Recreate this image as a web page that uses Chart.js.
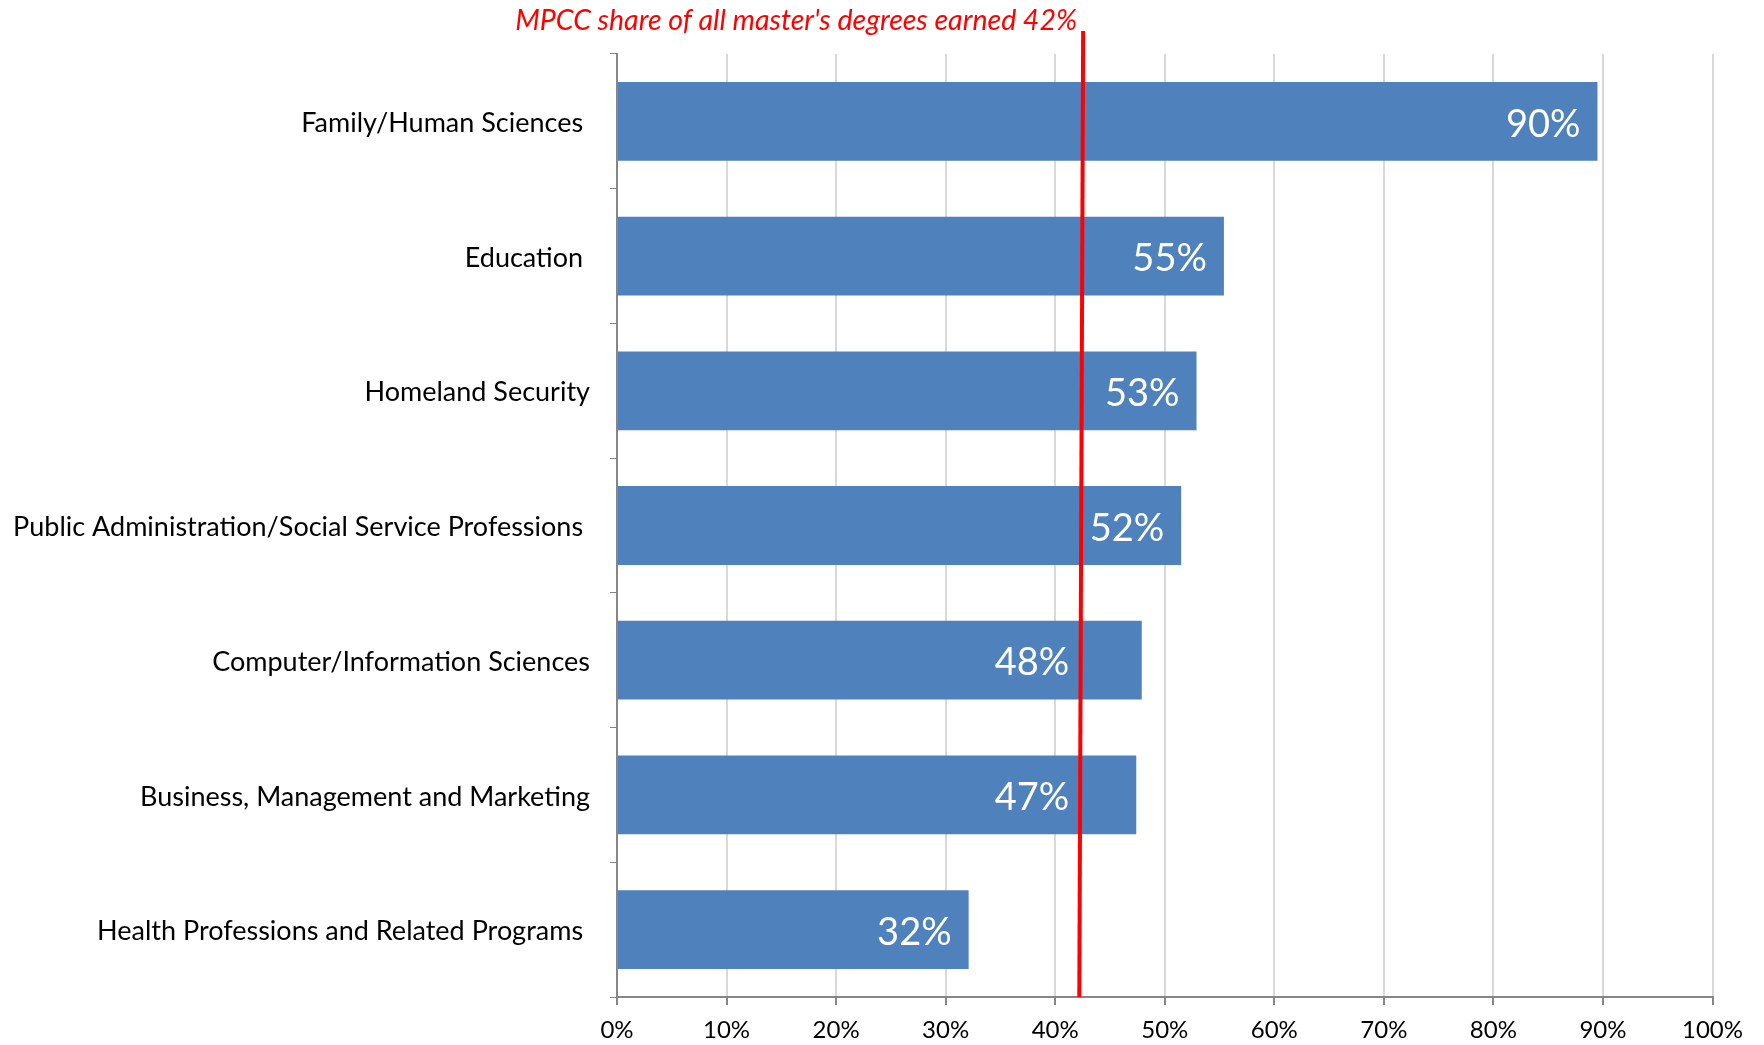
<!DOCTYPE html>
<html>
<head>
<meta charset="utf-8">
<script src="https://cdn.jsdelivr.net/npm/chart.js@4/dist/chart.umd.min.js"></script>
<style>
html,body{margin:0;padding:0;background:#fff;}
#wrap{width:1764px;height:1045px;position:relative;}
</style>
</head>
<body>
<div id="wrap"><canvas id="c" width="1764" height="1045"></canvas></div>
<script>
const categories = [
  "Family/Human Sciences ",
  "Education ",
  "Homeland Security",
  "Public Administration/Social Service Professions ",
  "Computer/Information Sciences",
  "Business, Management and Marketing",
  "Health Professions and Related Programs "
];
const shares = [89.5, 55.4, 52.9, 51.5, 47.9, 47.4, 32.1];
const valueLabels = ["90%", "55%", "53%", "52%", "48%", "47%", "32%"];
const xTicks = [0, 10, 20, 30, 40, 50, 60, 70, 80, 90, 100];
const refLineLabel = "MPCC share of all master's degrees earned 42%";
const refLineTop = 42.55;
const refLineBottom = 42.2;

const FONT = "Lato, 'Liberation Sans', sans-serif";

const overlay = {
  id: 'overlay',
  afterDraw(chart) {
    const ctx = chart.ctx;
    const x = chart.scales.x;
    const area = chart.chartArea;
    const meta = chart.getDatasetMeta(0);
    const redX = x.getPixelForValue(refLineBottom);
    ctx.save();
    ctx.fillStyle = '#ffffff';
    ctx.font = '38px ' + FONT;
    ctx.textAlign = 'right';
    ctx.textBaseline = 'middle';
    meta.data.forEach((bar, i) => {
      const w = ctx.measureText(valueLabels[i]).width;
      let right = bar.x - 17;
      if (right - w < redX + 6 && right > redX - 6) right = redX - 10;
      ctx.fillText(valueLabels[i], right, bar.y + 3);
    });
    ctx.strokeStyle = '#ff0000';
    ctx.lineWidth = 4;
    ctx.beginPath();
    ctx.moveTo(x.getPixelForValue(refLineTop), 31);
    ctx.lineTo(x.getPixelForValue(refLineBottom), area.bottom);
    ctx.stroke();
    ctx.fillStyle = '#ff0000';
    ctx.font = 'italic 28.5px ' + FONT;
    ctx.textAlign = 'right';
    ctx.textBaseline = 'middle';
    ctx.fillText(refLineLabel, x.getPixelForValue(refLineTop) - 6, 21);
    ctx.restore();
  }
};

new Chart(document.getElementById('c'), {
  type: 'bar',
  data: {
    labels: categories,
    datasets: [{
      data: shares,
      backgroundColor: '#4F81BD',
      borderWidth: 0,
      categoryPercentage: 1,
      barPercentage: 0.585
    }]
  },
  options: {
    indexAxis: 'y',
    responsive: false,
    animation: false,
    events: [],
    layout: { padding: { top: 54, right: 51.5, left: 0, bottom: 0 } },
    plugins: { legend: { display: false }, tooltip: { enabled: false } },
    scales: {
      x: {
        min: 0, max: 100,
        afterBuildTicks(s) { s.ticks = xTicks.map(v => ({ value: v })); },
        afterFit(s) { s.height = 48; },
        border: { display: true, color: '#868686', width: 2 },
        grid: { color: '#d9d9d9', lineWidth: 2, drawTicks: true, tickLength: 8, tickColor: '#868686' },
        ticks: { color: '#000', font: { family: FONT, size: 24 }, padding: 11, callback: v => v + '%' }
      },
      y: {
        afterFit(s) { s.width = 617; },
        border: { display: true, color: '#868686', width: 2 },
        grid: { drawOnChartArea: false, drawTicks: true, tickLength: 7, tickColor: '#868686', offset: true },
        ticks: { color: '#000', font: { family: FONT, size: 27 }, padding: 20, labelOffset: 2 }
      }
    }
  },
  plugins: [overlay]
});
</script>
</body>
</html>
